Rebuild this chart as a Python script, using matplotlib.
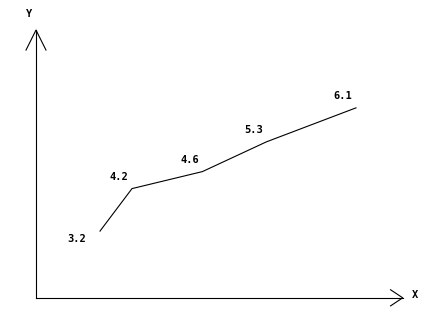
import matplotlib.pyplot as plt

x_vals = [1.0, 1.5, 2.6, 3.6, 5.0]
y_vals = [3.2, 4.2, 4.6, 5.3, 6.1]
labels = ['3.2', '4.2', '4.6', '5.3', '6.1']

fig = plt.figure(figsize=(4.42, 3.22), dpi=100)
ax = fig.add_axes([0, 0, 1, 1])
ax.set_xlim(-0.5625, 6.344)
ax.set_ylim(1.061, 8.638)
ax.axis('off')

lw = 0.8
y0 = 1.63
x_end = 5.73
y_end = 7.93

# axes with arrow heads
ax.plot([0, x_end], [y0, y0], color='black', lw=lw)
ax.plot([0, 0], [y0, y_end], color='black', lw=lw)
ax.plot([-0.156, 0, 0.156], [y_end - 0.47, y_end, y_end - 0.47], color='black', lw=lw)
ax.plot([x_end - 0.19, x_end, x_end - 0.19], [y0 + 0.19, y0, y0 - 0.19], color='black', lw=lw)

font = dict(family='DejaVu Sans Mono', weight='bold', fontsize=7.5)
ax.annotate('Y', (0, y_end), xytext=(-7, 16), textcoords='offset pixels',
            ha='center', va='center', **font)
ax.annotate('X', (x_end, y0), xytext=(12, 3), textcoords='offset pixels',
            ha='center', va='center', **font)

ax.plot(x_vals, y_vals, color='black', lw=lw)
for i, (x, y, t) in enumerate(zip(x_vals, y_vals, labels)):
    off = (-23, -8) if i == 0 else (-13, 12)
    ax.annotate(t, (x, y), xytext=off, textcoords='offset pixels',
                ha='center', va='center', **font)

fig.savefig('out.png', dpi=100)
